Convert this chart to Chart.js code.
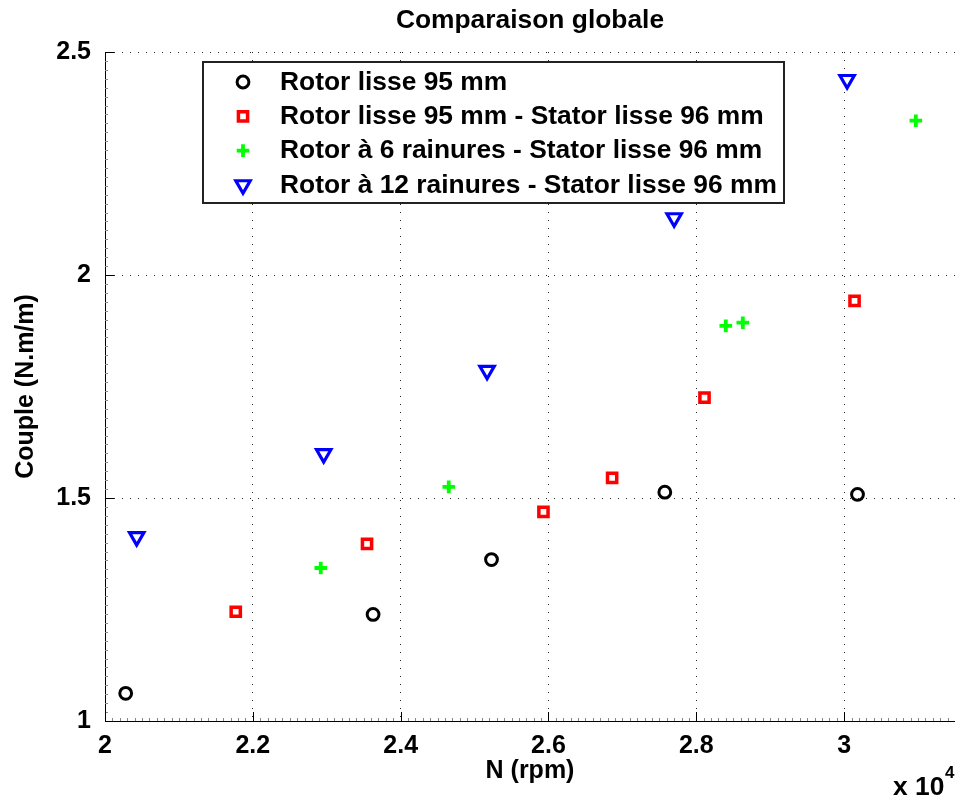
<!DOCTYPE html>
<html>
<head>
<meta charset="utf-8">
<title>Comparaison globale</title>
<script src="https://cdn.jsdelivr.net/npm/chart.js@4.4.0/dist/chart.umd.min.js"></script>
<style>
  html, body { margin: 0; padding: 0; background: #fff; overflow: hidden; }
  #graphique { display: block; }
</style>
</head>
<body>
<canvas id="graphique" width="955" height="796"></canvas>
<script>
// Textes de la figure
const titreGraphique = 'Comparaison globale';
const titreAxeX = 'N (rpm)';
const titreAxeY = 'Couple (N.m/m)';
const facteurX = 'x 10';
const exposantX = '4';

const nomsSeries = [
    'Rotor lisse 95 mm',
    'Rotor lisse 95 mm - Stator lisse 96 mm',
    'Rotor à 6 rainures - Stator lisse 96 mm',
    'Rotor à 12 rainures - Stator lisse 96 mm'
];

const nRotorLisse = [20280, 23627, 25229, 27574, 30181];
const coupleRotorLisse = [1.062, 1.239, 1.362, 1.513, 1.508];

const nStatorLisse = [21769, 23545, 25932, 26861, 28111, 30141];
const coupleStatorLisse = [1.245, 1.397, 1.469, 1.545, 1.725, 1.942];

const n6Rainures = [22919, 24651, 28399, 28629, 30970];
const couple6Rainures = [1.343, 1.525, 1.886, 1.893, 2.346];

const n12Rainures = [20429, 22959, 25169, 27700, 30040];
const couple12Rainures = [1.413, 1.599, 1.786, 2.128, 2.438];

// Graduations
const ticksX = [20000, 22000, 24000, 26000, 28000, 30000];
const ticksY = [1, 1.5, 2, 2.5];

const police = '"Liberation Sans", Arial, Helvetica, sans-serif';
Chart.defaults.font.family = police;
Chart.defaults.font.weight = 'bold';
Chart.defaults.font.size = 25;
Chart.defaults.color = '#000';

// Fonction pour assembler les points d'une série
function points(xs, ys) {
    return xs.map(function (x, i) {
        return { x: x, y: ys[i] };
    });
}

// Texte un peu élargi (la police d'origine est plus large que Arial)
function texteEtire(ctx, texte, x, y, etirement, align, baseline) {
    ctx.save();
    ctx.translate(x, y);
    ctx.scale(etirement, 1);
    ctx.textAlign = align;
    ctx.textBaseline = baseline;
    ctx.fillText(texte, 0, 0);
    ctx.restore();
}

function dessinerMarqueur(ctx, ds, x, y) {
    ctx.save();
    ctx.strokeStyle = ds.pointBorderColor;
    ctx.fillStyle = 'rgba(0,0,0,0)';
    ctx.lineWidth = ds.pointBorderWidth;
    Chart.helpers.drawPoint(ctx, {
        pointStyle: ds.pointStyle,
        radius: ds.pointRadius,
        rotation: ds.pointRotation || 0,
        borderWidth: ds.pointBorderWidth
    }, x, y);
    ctx.restore();
}

// Titre centré sur la zone de tracé + facteur x 10^4
const titre = {
    id: 'titre',
    afterDraw(chart) {
        const ctx = chart.ctx;
        const area = chart.chartArea;
        ctx.save();
        ctx.fillStyle = '#000';
        ctx.font = 'bold 25px ' + police;
        texteEtire(ctx, titreGraphique, (area.left + area.right) / 2, 21, 1.055, 'center', 'middle');
        texteEtire(ctx, facteurX, 893, 795, 1.055, 'left', 'alphabetic');
        ctx.font = 'bold 17px ' + police;
        ctx.textAlign = 'left';
        ctx.textBaseline = 'alphabetic';
        ctx.fillText(exposantX, 945, 778);
        ctx.restore();
    }
};

// Graduations principales (vers l'intérieur) et secondaires
const graduations = {
    id: 'graduations',
    afterDraw(chart) {
        const ctx = chart.ctx;
        const sx = chart.scales.x;
        const sy = chart.scales.y;
        const area = chart.chartArea;
        ctx.save();
        ctx.lineWidth = 1;
        ctx.strokeStyle = '#888';
        for (let i = 0; i <= 115; i++) {
            const px = Math.round(sx.getPixelForValue(20000 + i * 100)) + 0.5;
            ctx.beginPath();
            ctx.moveTo(px, area.bottom);
            ctx.lineTo(px, area.bottom - 3);
            ctx.stroke();
        }
        for (let i = 0; i <= 75; i++) {
            const py = Math.round(sy.getPixelForValue(1 + i * 0.02)) + 0.5;
            ctx.beginPath();
            ctx.moveTo(area.left, py);
            ctx.lineTo(area.left + 3, py);
            ctx.stroke();
        }
        ctx.strokeStyle = '#000';
        ticksX.forEach(function (v) {
            const px = Math.round(sx.getPixelForValue(v)) + 0.5;
            ctx.beginPath();
            ctx.moveTo(px, area.bottom);
            ctx.lineTo(px, area.bottom - 9);
            ctx.stroke();
        });
        ticksY.forEach(function (v) {
            const py = Math.round(sy.getPixelForValue(v)) + 0.5;
            ctx.beginPath();
            ctx.moveTo(area.left, py);
            ctx.lineTo(area.left + 9, py);
            ctx.stroke();
        });
        ctx.restore();
    }
};

// Légende encadrée à l'intérieur du graphique
const legendeCadre = {
    id: 'legendeCadre',
    afterDraw(chart) {
        const ctx = chart.ctx;
        const x0 = 203, y0 = 62, w = 581, h = 141;
        ctx.save();
        ctx.fillStyle = '#fff';
        ctx.fillRect(x0, y0, w, h);
        ctx.lineWidth = 2;
        ctx.strokeStyle = '#222';
        ctx.strokeRect(x0, y0, w, h);
        ctx.font = 'bold 25px ' + police;
        chart.data.datasets.forEach(function (ds, i) {
            const yl = 82 + i * 34.3;
            dessinerMarqueur(ctx, ds, 243, yl);
            ctx.fillStyle = '#000';
            texteEtire(ctx, ds.label, 280, yl + 1, 1.055, 'left', 'middle');
        });
        ctx.restore();
    }
};

var ctx = document.getElementById('graphique').getContext('2d');
var graphique = new Chart(ctx, {
    type: 'scatter',
    data: {
        datasets: [
            {
                label: nomsSeries[0],
                data: points(nRotorLisse, coupleRotorLisse),
                pointStyle: 'circle',
                pointRadius: 5.9,
                pointBorderWidth: 3,
                pointBorderColor: '#000000',
                pointBackgroundColor: 'rgba(0,0,0,0)',
                borderColor: '#000000'
            },
            {
                label: nomsSeries[1],
                data: points(nStatorLisse, coupleStatorLisse),
                pointStyle: 'rect',
                pointRadius: 6.5,
                pointBorderWidth: 3.5,
                pointBorderColor: '#ff0000',
                pointBackgroundColor: 'rgba(0,0,0,0)',
                borderColor: '#ff0000'
            },
            {
                label: nomsSeries[2],
                data: points(n6Rainures, couple6Rainures),
                pointStyle: 'cross',
                pointRadius: 6.3,
                pointBorderWidth: 3.8,
                pointBorderColor: '#00ff00',
                pointBackgroundColor: 'rgba(0,0,0,0)',
                borderColor: '#00ff00'
            },
            {
                label: nomsSeries[3],
                data: points(n12Rainures, couple12Rainures),
                pointStyle: 'triangle',
                pointRotation: 180,
                pointRadius: 8.3,
                pointBorderWidth: 3.2,
                pointBorderColor: '#0000ff',
                pointBackgroundColor: 'rgba(0,0,0,0)',
                borderColor: '#0000ff'
            }
        ]
    },
    options: {
        responsive: false,
        animation: false,
        devicePixelRatio: 1,
        layout: { autoPadding: false, padding: { top: 52, right: 0, bottom: 0, left: 0 } },
        plugins: {
            legend: { display: false },
            tooltip: { enabled: false }
        },
        scales: {
            x: {
                type: 'linear',
                min: 20000,
                max: 31500,
                afterFit: function (scale) { scale.height = 75; },
                afterBuildTicks: function (scale) {
                    scale.ticks = ticksX.map(function (v) { return { value: v }; });
                },
                ticks: {
                    padding: 10,
                    maxRotation: 0,
                    callback: function (value) { return String(value / 1e4); }
                },
                grid: { color: '#222', lineWidth: 1, drawTicks: false },
                border: { color: '#000', width: 1, dash: [1, 7] },
                title: { display: true, text: titreAxeX, padding: { top: 0, bottom: 10 } }
            },
            y: {
                type: 'linear',
                min: 1,
                max: 2.5,
                afterFit: function (scale) { scale.width = 105; },
                afterBuildTicks: function (scale) {
                    scale.ticks = ticksY.map(function (v) { return { value: v }; });
                },
                ticks: {
                    padding: 14,
                    callback: function (value) { return String(value); }
                },
                grid: { color: '#222', lineWidth: 1, drawTicks: false },
                border: { color: '#000', width: 1, dash: [1, 7] },
                title: { display: true, text: titreAxeY, padding: { top: 11, bottom: 0 } }
            }
        }
    },
    plugins: [titre, graduations, legendeCadre]
});
</script>
</body>
</html>
